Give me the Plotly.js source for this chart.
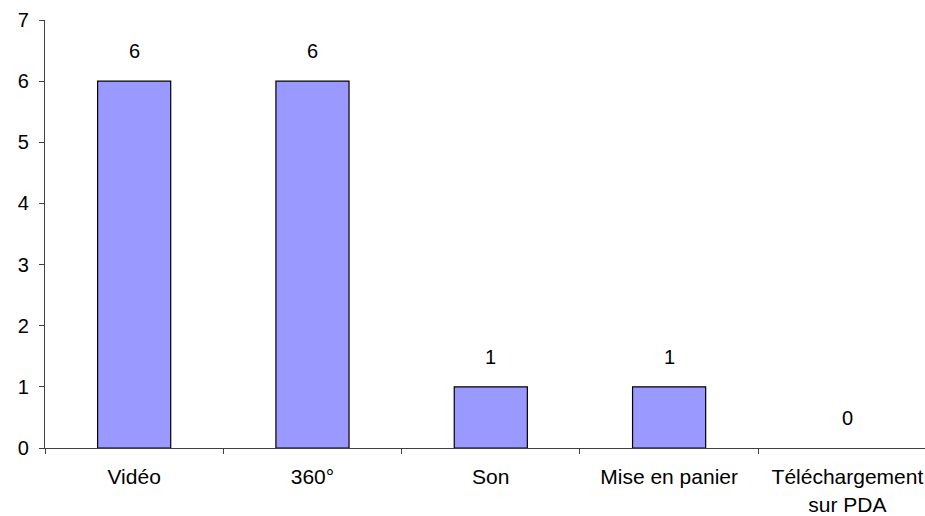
<!DOCTYPE html>
<html><head><meta charset="utf-8">
<script src="https://cdn.plot.ly/plotly-3.0.1.min.js"></script>
<style>html,body{margin:0;padding:0;background:#fff}#c{width:925px;height:516px}</style>
</head><body><div id="c"></div>
<script>
const categories = ["Vidéo", "360°", "Son", "Mise en panier", "Téléchargement<br>sur PDA"];
const values = [6, 6, 1, 1, 0];
const yTicks = [0, 1, 2, 3, 4, 5, 6, 7];

const trace = {
  type: "bar",
  x: categories,
  y: values,
  width: 0.41,
  marker: {color: "#9999FF", line: {color: "#000000", width: values.map(v => v > 0 ? 1.2 : 0)}},
  hoverinfo: "none"
};
const annotations = categories.map((c, i) => ({
  x: c, y: values[i], text: String(values[i]), showarrow: false,
  yanchor: "bottom", yshift: 17, font: {family: "Liberation Sans, Arial", size: 20, color: "#000"}
}));
const layout = {
  width: 925, height: 516,
  margin: {l: 45, r: 0, t: 20, b: 68},
  paper_bgcolor: "#fff", plot_bgcolor: "#fff",
  showlegend: false,
  font: {family: "Liberation Sans, Arial", size: 20, color: "#000"},
  xaxis: {
    type: "category", range: [-0.5, 4.435], showgrid: false, zeroline: false,
    showline: true, linecolor: "#404040", linewidth: 1.2, layer: "above traces",
    ticks: "outside", tickson: "boundaries", ticklen: 5, tickcolor: "#404040",
    ticklabelstandoff: 10, tickfont: {size: 21}
  },
  yaxis: {
    range: [0, 7], tickvals: yTicks, showgrid: false, zeroline: false,
    showline: true, linecolor: "#404040", linewidth: 1.2,
    ticks: "outside", ticklen: 5, tickcolor: "#404040",
    ticklabelstandoff: 6
  },
  annotations: annotations
};
Plotly.newPlot("c", [trace], layout, {displayModeBar: false, staticPlot: true});
</script></body></html>
